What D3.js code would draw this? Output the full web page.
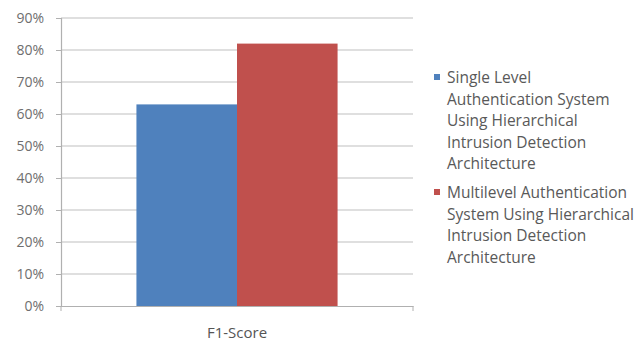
<!DOCTYPE html>
<html>
<head>
<meta charset="utf-8">
<script src="https://cdn.jsdelivr.net/npm/d3@7"></script>
<style>
  html, body { margin: 0; padding: 0; background: #fff; }
  svg { display: block; }
  text { font-family: "Open Sans", "Liberation Sans", sans-serif; }
</style>
</head>
<body>
<svg id="chart" width="634" height="342"></svg>
<script>
// Chart data
const categories = ["F1-Score"];
const seriesNames = [
  "Single Level Authentication System Using Hierarchical Intrusion Detection Architecture",
  "Multilevel Authentication System Using Hierarchical Intrusion Detection Architecture"
];
const legendLines = [
  ["Single Level", "Authentication System", "Using Hierarchical", "Intrusion Detection", "Architecture"],
  ["Multilevel Authentication", "System Using Hierarchical", "Intrusion Detection", "Architecture"]
];
const singleLevelValues = [0.63];
const multilevelValues = [0.82];
const yTicks = [0, 0.1, 0.2, 0.3, 0.4, 0.5, 0.6, 0.7, 0.8, 0.9];
const seriesColors = ["#4F81BD", "#C0504D"];

const svg = d3.select("#chart");
const plot = { left: 61, right: 413, top: 18, bottom: 306 };

const y = d3.scaleLinear().domain([0, 0.9]).range([plot.bottom, plot.top]);
const x0 = d3.scaleBand().domain(categories).range([plot.left, plot.right])
  .paddingInner(0).paddingOuter(0.375);
const x1 = d3.scaleBand().domain(d3.range(seriesNames.length)).range([0, x0.bandwidth()]);

// Gridlines
svg.append("g")
  .selectAll("line")
  .data(yTicks.filter(t => t > 0))
  .join("line")
  .attr("x1", plot.left).attr("x2", plot.right)
  .attr("y1", d => y(d)).attr("y2", d => y(d))
  .attr("stroke", "#d4d4d4").attr("stroke-width", 1.3);

// Bars
const rows = categories.map((c, i) => ({ cat: c, vals: [singleLevelValues[i], multilevelValues[i]] }));
svg.append("g")
  .selectAll("g")
  .data(rows)
  .join("g")
  .attr("transform", d => `translate(${x0(d.cat)},0)`)
  .selectAll("rect")
  .data(d => d.vals.map((v, k) => ({ v, k })))
  .join("rect")
  .attr("x", d => x1(d.k))
  .attr("width", x1.bandwidth())
  .attr("y", d => y(d.v))
  .attr("height", d => y(0) - y(d.v))
  .attr("fill", d => seriesColors[d.k]);

// Y axis
const yAxis = svg.append("g")
  .attr("transform", `translate(${plot.left},0)`)
  .call(d3.axisLeft(y).tickValues(yTicks).tickFormat(d3.format(".0%")).tickSizeOuter(0).tickSize(5).tickPadding(12));
yAxis.select(".domain").attr("stroke", "#b0b0b0").attr("stroke-width", 1.2);
yAxis.selectAll(".tick line").attr("stroke", "#b0b0b0");
yAxis.selectAll(".tick text").attr("fill", "#6e6e6e").style("font-size", "14px")
  .style("font-family", "\"Open Sans\", sans-serif");

// X axis
const xAxis = svg.append("g")
  .attr("transform", `translate(0,${plot.bottom})`)
  .call(d3.axisBottom(x0).tickSize(0).tickPadding(21));
xAxis.select(".domain").attr("stroke", "#b0b0b0").attr("stroke-width", 1.2);
xAxis.selectAll(".tick text").attr("fill", "#555").style("font-size", "15px")
  .style("font-family", "\"Open Sans\", sans-serif");
svg.append("g").selectAll("line")
  .data([plot.left, plot.right])
  .join("line")
  .attr("x1", d => d).attr("x2", d => d)
  .attr("y1", plot.bottom).attr("y2", plot.bottom + 5)
  .attr("stroke", "#b0b0b0");

// Legend
const legendTop = [83, 198];
const lineStep = 21.6;
const legend = svg.append("g");
legendLines.forEach((lines, k) => {
  const g = legend.append("g").attr("transform", `translate(0,${legendTop[k]})`);
  g.append("rect")
    .attr("x", 434).attr("y", -9).attr("width", 6).attr("height", 6)
    .attr("fill", seriesColors[k]);
  g.selectAll("text")
    .data(lines)
    .join("text")
    .attr("x", 447)
    .attr("y", (d, i) => i * lineStep)
    .attr("fill", "#595959")
    .style("font-size", "15.5px")
    .text(d => d);
});
</script>
</body>
</html>
